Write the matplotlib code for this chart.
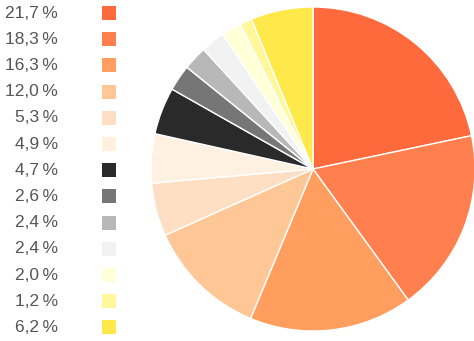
import matplotlib
matplotlib.use('Agg')
import matplotlib.pyplot as plt
from matplotlib.patches import Rectangle

values = [21.7, 18.3, 16.3, 12.0, 5.3, 4.9, 4.7, 2.6, 2.4, 2.4, 2.0, 1.2, 6.2]
colors = ['#FF6A3D', '#FF7F4F', '#FF9E5E', '#FFC796', '#FFDFC4', '#FFF1E2',
          '#2A2A2A', '#767676', '#B8B8B8', '#F2F2F2', '#FFFFD8', '#FFF79A', '#FFE94A']
labels = [f"{v:.1f}".replace('.', ',') + '\u2009%' for v in values]

W, H = 474, 341
fig = plt.figure(figsize=(W / 100, H / 100), dpi=100)
fig.patch.set_facecolor('white')

# pie centre (313,169) px, radius 162 px
cx, cy, r = 313, 169, 162
ax = fig.add_axes([(cx - r) / W, (H - cy - r) / H, 2 * r / W, 2 * r / H])
ax.pie(values, colors=colors, startangle=90, counterclock=False,
       wedgeprops=dict(edgecolor='white', linewidth=1.0))
ax.set_xlim(-1, 1)
ax.set_ylim(-1, 1)
ax.set_aspect('equal')
ax.axis('off')

# legend: text right-aligned, square swatch
y0, dy = 13, 26.2
for i, (lab, col) in enumerate(zip(labels, colors)):
    y = y0 + i * dy
    fig.text(58 / W, 1 - y / H, lab, ha='right', va='center', fontsize=12.5,
             color='#555555', family=['Liberation Sans', 'DejaVu Sans'])
    fig.patches.append(Rectangle((102 / W, 1 - (y + 7) / H), 14 / W, 14 / H,
                                 transform=fig.transFigure, fc=col, ec='none'))

plt.savefig('out.png', dpi=100, facecolor='white')
